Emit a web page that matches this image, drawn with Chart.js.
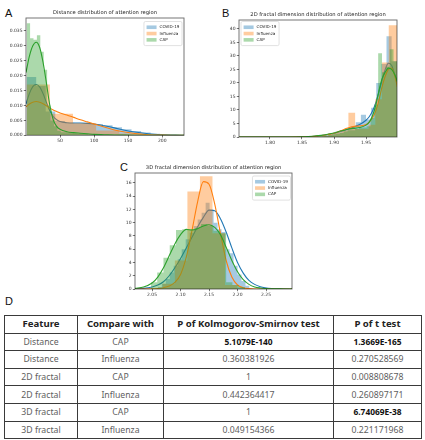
<!DOCTYPE html>
<html>
<head>
<meta charset="utf-8">
<script src="https://cdn.jsdelivr.net/npm/chart.js@4.4.1/dist/chart.umd.min.js"></script>
<style>
html,body{margin:0;padding:0;background:#fff}
body{width:425px;height:440px;position:relative;overflow:hidden}
canvas{position:absolute}
.panel{position:absolute;font-family:"Liberation Sans",Arial,sans-serif;font-size:11px;line-height:1;color:#111}
#tbl{position:absolute;left:4px;top:315px;width:417px;border-collapse:collapse;table-layout:fixed;font-family:"Noto Sans",sans-serif}
#tbl td,#tbl th{border:1px solid #3a3a3a;padding:0;text-align:center;height:16.6px;line-height:14px;white-space:nowrap;overflow:hidden}
#tbl th{font-size:9.6px;font-weight:bold;color:#222}
#tbl td{font-size:8.7px;color:#606060}
#tbl td.b{font-weight:bold;color:#111;font-size:8.4px}
</style>
</head>
<body>
<div class="panel" style="left:5px;top:7.7px">A</div>
<div class="panel" style="left:222px;top:7.7px">B</div>
<div class="panel" style="left:120px;top:161.7px">C</div>
<div class="panel" style="left:5px;top:295.7px">D</div>
<canvas id="cA" width="200" height="146" style="left:0;top:0"></canvas>
<canvas id="cB" width="215" height="148" style="left:210px;top:0"></canvas>
<canvas id="cC" width="200" height="151" style="left:110px;top:150px"></canvas>
<table id="tbl">
<colgroup><col style="width:73px"><col style="width:86px"><col style="width:170px"><col style="width:88px"></colgroup>
<thead></thead><tbody></tbody>
</table>
<script>
// ---------------- DATA ----------------
const seriesNames = ["COVID-19", "Influenza", "CAP"];

// Panel A: distance distribution
const distTitle = "Distance distribution of attention region";
const distXTicks = [50, 100, 150, 200];
const distYTicks = [0, 0.005, 0.010, 0.015, 0.020, 0.025, 0.030, 0.035];
const distCovidEdges = [1, 15, 29, 43, 57, 71, 85, 99, 113, 127, 141, 155, 169, 183, 197, 211, 225];
const distCovidHeights = [0.0195, 0.0165, 0.0080, 0.0048, 0.0042, 0.0040, 0.0040, 0.0038, 0.0034, 0.0027, 0.0020, 0.0014, 0.0009, 0.0005, 0.0003, 0.0001];
const distFluEdges = [1, 35, 69, 103, 137, 171, 205];
const distFluHeights = [0.0170, 0.0072, 0.0040, 0.0016, 0.0006, 0.0002];
const distCapEdges = [1, 6, 11, 16, 21, 26, 31, 36, 41, 46, 51, 61, 71, 81, 91, 101];
const distCapHeights = [0.0375, 0.0325, 0.0320, 0.0335, 0.0280, 0.0220, 0.0100, 0.0050, 0.0030, 0.0015, 0.0010, 0.0008, 0.0006, 0.0004, 0.0003];
const distKdeX = [0, 5, 10, 15, 20, 25, 30, 35, 40, 45, 50, 60, 70, 80, 90, 100, 115, 130, 145, 160, 180, 200, 220, 232];
const distKdeCovid = [0.0105, 0.0140, 0.0163, 0.0170, 0.0162, 0.0140, 0.0110, 0.0082, 0.0063, 0.0052, 0.0046, 0.0042, 0.0041, 0.0041, 0.0040, 0.0038, 0.0032, 0.0025, 0.0017, 0.0011, 0.0005, 0.0002, 0.00005, 0.00002];
const distKdeFlu = [0.0095, 0.0105, 0.0111, 0.0113, 0.0111, 0.0106, 0.0099, 0.0091, 0.0085, 0.0080, 0.0075, 0.0068, 0.0060, 0.0052, 0.0045, 0.0038, 0.0028, 0.0018, 0.0011, 0.0006, 0.0002, 0.00007, 0.00002, 0];
const distKdeCap = [0.0210, 0.0265, 0.0300, 0.0312, 0.0295, 0.0245, 0.0175, 0.0100, 0.0052, 0.0030, 0.0020, 0.0012, 0.0009, 0.0007, 0.0005, 0.0003, 0.0002, 0.0001, 0.00005, 0.00002, 0, 0, 0, 0];

// Panel B: 2D fractal dimension
const frac2Title = "2D fractal dimension distribution of attention region";
const frac2XTicks = [1.80, 1.85, 1.90, 1.95];
const frac2YTicks = [0, 5, 10, 15, 20, 25, 30, 35, 40];
const frac2CovidEdges = [1.870, 1.878, 1.886, 1.894, 1.902, 1.910, 1.918, 1.926, 1.934, 1.942, 1.950, 1.958, 1.966, 1.974, 1.982, 1.990, 1.999];
const frac2CovidHeights = [0.4, 0.6, 1.0, 1.5, 2.0, 2.6, 3.2, 4.0, 5.5, 8.2, 6.5, 10.8, 20.0, 27.0, 37.3, 28.0];
const frac2FluEdges = [1.8805, 1.891, 1.9015, 1.912, 1.9225, 1.933, 1.9435, 1.954, 1.9645, 1.975, 1.9855, 1.999];
const frac2FluHeights = [0.5, 1.0, 1.8, 2.5, 9.0, 3.0, 3.0, 4.5, 14.0, 27.6, 41.4];
const frac2CapEdges = [1.873, 1.879, 1.885, 1.891, 1.897, 1.903, 1.909, 1.915, 1.921, 1.927, 1.933, 1.939, 1.945, 1.951, 1.957, 1.963, 1.969, 1.975, 1.981, 1.987, 1.993, 1.999];
const frac2CapHeights = [0.2, 0.3, 0.5, 0.7, 1.0, 1.2, 1.5, 2.0, 2.5, 2.5, 3.0, 3.5, 3.5, 4.0, 7.0, 12.0, 31.0, 24.0, 26.0, 32.5, 28.0];
const frac2KdeX = [1.752, 1.80, 1.83, 1.85, 1.86, 1.87, 1.88, 1.89, 1.90, 1.91, 1.92, 1.93, 1.94, 1.95, 1.955, 1.96, 1.965, 1.97, 1.975, 1.98, 1.985, 1.99, 1.995, 1.999];
const frac2KdeCovid = [0, 0, 0.02, 0.08, 0.15, 0.3, 0.55, 0.9, 1.4, 2.0, 2.8, 3.6, 4.6, 6.2, 7.5, 9.5, 12.5, 16.5, 21.0, 25.0, 27.3, 26.5, 23.0, 19.5];
const frac2KdeFlu = [0, 0, 0.02, 0.08, 0.15, 0.3, 0.5, 0.9, 1.4, 2.2, 3.2, 3.9, 4.1, 4.6, 5.5, 7.0, 9.5, 13.5, 18.5, 22.5, 25.0, 25.5, 22.5, 18.5];
const frac2KdeCap = [0, 0, 0.02, 0.1, 0.2, 0.35, 0.6, 1.0, 1.5, 2.2, 2.8, 3.2, 3.5, 4.4, 5.5, 7.8, 11.5, 17.0, 21.5, 24.0, 25.5, 25.0, 23.0, 20.5];

// Panel C: 3D fractal dimension
const frac3Title = "3D fractal dimension distribution of attention region";
const frac3XTicks = [2.05, 2.10, 2.15, 2.20, 2.25];
const frac3YTicks = [0, 2, 4, 6, 8, 10, 12, 14, 16];
const frac3CovidEdges = [2.060, 2.067, 2.074, 2.081, 2.088, 2.095, 2.102, 2.109, 2.116, 2.123, 2.130, 2.137, 2.144, 2.151, 2.158, 2.165, 2.172, 2.179, 2.186, 2.193, 2.200, 2.207, 2.214, 2.221];
const frac3CovidHeights = [0.3, 0.8, 1.5, 2.5, 3.5, 4.5, 6.0, 7.5, 8.5, 9.5, 10.5, 11.5, 13.0, 12.0, 10.0, 9.0, 8.6, 6.0, 5.4, 3.5, 2.2, 1.2, 0.5];
const frac3FluEdges = [2.068, 2.090, 2.112, 2.134, 2.156, 2.178, 2.200];
const frac3FluHeights = [0.8, 4.3, 14.7, 17.0, 8.4, 0.6];
const frac3CapEdges = [2.048, 2.059, 2.070, 2.081, 2.092, 2.103, 2.114, 2.125, 2.136, 2.147, 2.158, 2.169, 2.180, 2.191, 2.202, 2.213];
const frac3CapHeights = [1.0, 2.5, 4.7, 6.6, 8.9, 9.0, 9.0, 9.2, 9.8, 9.5, 8.8, 8.4, 1.0, 0.6, 0.3];
const frac3KdeX = [2.020, 2.035, 2.05, 2.06, 2.07, 2.08, 2.09, 2.10, 2.11, 2.12, 2.13, 2.14, 2.15, 2.16, 2.17, 2.18, 2.19, 2.20, 2.21, 2.22, 2.23, 2.24, 2.26, 2.28, 2.296];
const frac3KdeCovid = [0.05, 0.1, 0.3, 0.6, 1.1, 2.0, 3.2, 4.6, 6.2, 7.8, 9.4, 10.8, 11.9, 11.8, 10.6, 8.6, 6.2, 4.0, 2.4, 1.3, 0.7, 0.35, 0.08, 0.02, 0];
const frac3KdeFlu = [0, 0, 0.02, 0.08, 0.2, 0.45, 1.0, 2.2, 4.8, 8.8, 13.2, 16.2, 15.8, 12.8, 8.4, 4.3, 1.8, 0.6, 0.2, 0.05, 0, 0, 0, 0, 0];
const frac3KdeCap = [0.1, 0.3, 0.9, 1.8, 3.2, 5.0, 6.8, 8.2, 9.0, 8.9, 9.1, 9.5, 9.7, 9.3, 8.2, 6.3, 4.3, 2.6, 1.4, 0.7, 0.3, 0.15, 0.04, 0.01, 0];

// Panel D: statistics table
const tableHeader = ["Feature", "Compare with", "P of Kolmogorov-Smirnov test", "P of t test"];
const tableFeature = ["Distance", "Distance", "2D fractal", "2D fractal", "3D fractal", "3D fractal"];
const tableCompare = ["CAP", "Influenza", "CAP", "Influenza", "CAP", "Influenza"];
const tableKS = ["5.1079E-140", "0.360381926", "1", "0.442364417", "1", "0.049154366"];
const tableT = ["1.3669E-165", "0.270528569", "0.008808678", "0.260897171", "6.74069E-38", "0.221171968"];
const tableBoldCells = [[0, 2], [0, 3], [4, 3]];

// ---------------- RENDER ----------------
Chart.defaults.font.family = '"DejaVu Sans", sans-serif';
Chart.defaults.color = '#333';
const LINE_COLORS = ['#1f77b4', '#ff7f0e', '#2ca02c'];
const FILL_COLORS = ['rgba(31,119,180,0.4)', 'rgba(255,127,14,0.4)', 'rgba(44,160,44,0.4)'];

function histPoints(edges, heights) {
  const pts = [];
  for (let i = 0; i < heights.length; i++) {
    pts.push({x: edges[i], y: heights[i]});
    pts.push({x: edges[i + 1], y: heights[i]});
  }
  return pts;
}

const framePlugin = {
  id: 'frame',
  afterDatasetsDraw(chart) {
    const ctx = chart.ctx, a = chart.chartArea;
    ctx.save();
    ctx.strokeStyle = 'rgba(0,0,0,0.6)';
    ctx.lineWidth = 0.9;
    ctx.strokeRect(a.left, a.top, a.right - a.left, a.bottom - a.top);
    ctx.restore();
  }
};

const boxLegend = {
  id: 'boxLegend',
  afterDraw(chart, args, o) {
    const ctx = chart.ctx, a = chart.chartArea;
    const items = chart.data.datasets.filter(d => d.kind === 'hist');
    ctx.save();
    ctx.font = o.fontSize + 'px "DejaVu Sans", sans-serif';
    const tw = Math.max(...items.map(d => ctx.measureText(d.label).width));
    const w = o.pad + o.patchW + o.gap + tw + o.pad;
    const h = o.pad * 2 + o.rowH * items.length;
    const x = o.side === 'right' ? a.right - o.offX - w : a.left + o.offX;
    const y = a.top + o.offY;
    ctx.beginPath();
    if (ctx.roundRect) ctx.roundRect(x, y, w, h, 1.5); else ctx.rect(x, y, w, h);
    ctx.fillStyle = 'rgba(255,255,255,0.8)';
    ctx.fill();
    ctx.strokeStyle = '#d4d4d4';
    ctx.lineWidth = 0.7;
    ctx.stroke();
    items.forEach((d, i) => {
      const cy = y + o.pad + o.rowH * (i + 0.5);
      ctx.fillStyle = d.backgroundColor;
      ctx.fillRect(x + o.pad, cy - o.patchH / 2, o.patchW, o.patchH);
      ctx.fillStyle = '#222';
      ctx.textBaseline = 'middle';
      ctx.textAlign = 'left';
      ctx.fillText(d.label, x + o.pad + o.patchW + o.gap, cy);
    });
    ctx.restore();
  }
};

function makeChart(id, p) {
  const datasets = [];
  for (let s = 0; s < 3; s++) {
    datasets.push({
      label: seriesNames[s], kind: 'hist', order: 5 - 2 * s,
      data: histPoints(p.hists[s][0], p.hists[s][1]),
      backgroundColor: FILL_COLORS[s], borderColor: 'rgba(0,0,0,0)', borderWidth: 0,
      fill: 'origin', pointRadius: 0, tension: 0
    });
    datasets.push({
      label: seriesNames[s] + ' KDE', kind: 'kde', order: 4 - 2 * s,
      data: p.kdeX.map((x, i) => ({x: x, y: p.kdes[s][i]})),
      borderColor: LINE_COLORS[s], borderWidth: 1.1, fill: false, pointRadius: 0,
      cubicInterpolationMode: 'monotone'
    });
  }
  const tickFont = {size: 4.5};
  new Chart(document.getElementById(id), {
    type: 'line',
    data: {datasets: datasets},
    plugins: [framePlugin, boxLegend],
    options: {
      responsive: false, animation: false, devicePixelRatio: 1,
      layout: {padding: {left: 0, top: 0, right: p.padRight, bottom: 0}},
      plugins: {
        legend: {display: false},
        tooltip: {enabled: false},
        title: {display: true, text: p.title, fullSize: false, color: '#222',
          font: {size: 5.2, weight: 'normal'}, padding: {top: p.titlePadTop, bottom: 1.76}},
        boxLegend: Object.assign({fontSize: 4.1, pad: 2.6, patchW: 10, patchH: 3.6, gap: 3, rowH: 6.3}, p.legend)
      },
      scales: {
        x: {
          type: 'linear', min: p.xMin, max: p.xMax,
          afterBuildTicks: sc => { sc.ticks = p.xTicks.map(v => ({value: v})); },
          afterFit: sc => { sc.height = p.xAxisH; },
          ticks: {callback: v => p.xFmt(v), font: tickFont, color: '#333', padding: 0.5, maxRotation: 0, autoSkip: false},
          grid: {display: true, drawOnChartArea: false, drawTicks: true, tickLength: 2.2, color: '#555', lineWidth: 0.8},
          border: {display: false}
        },
        y: {
          type: 'linear', min: p.yMin, max: p.yMax,
          afterBuildTicks: sc => { sc.ticks = p.yTicks.map(v => ({value: v})); },
          afterFit: sc => { sc.width = p.yAxisW; },
          ticks: {callback: v => p.yFmt(v), font: tickFont, color: '#333', padding: 1.2, autoSkip: false},
          grid: {display: true, drawOnChartArea: false, drawTicks: true, tickLength: 2.2, color: '#555', lineWidth: 0.8},
          border: {display: false}
        }
      }
    }
  });
}

makeChart('cA', {
  title: distTitle, titlePadTop: 10, padRight: 16, yAxisW: 26, xAxisH: 10.7,
  xMin: 0, xMax: 232, yMin: 0, yMax: 0.0393,
  xTicks: distXTicks, yTicks: distYTicks,
  xFmt: v => String(Math.round(v)), yFmt: v => v.toFixed(3),
  hists: [[distCovidEdges, distCovidHeights], [distFluEdges, distFluHeights], [distCapEdges, distCapHeights]],
  kdeX: distKdeX, kdes: [distKdeCovid, distKdeFlu, distKdeCap],
  legend: {side: 'right', offX: 2, offY: 3.5}
});

makeChart('cB', {
  title: frac2Title, titlePadTop: 12, padRight: 28, yAxisW: 29, xAxisH: 11,
  xMin: 1.7516, xMax: 1.9984, yMin: 0, yMax: 43.3,
  xTicks: frac2XTicks, yTicks: frac2YTicks,
  xFmt: v => v.toFixed(2), yFmt: v => String(Math.round(v)),
  hists: [[frac2CovidEdges, frac2CovidHeights], [frac2FluEdges, frac2FluHeights], [frac2CapEdges, frac2CapHeights]],
  kdeX: frac2KdeX, kdes: [frac2KdeCovid, frac2KdeFlu, frac2KdeCap],
  legend: {side: 'left', offX: 2, offY: 1.5}
});

makeChart('cC', {
  title: frac3Title, titlePadTop: 15, padRight: 18, yAxisW: 25, xAxisH: 12,
  xMin: 2.020, xMax: 2.2956, yMin: 0, yMax: 17.5,
  xTicks: frac3XTicks, yTicks: frac3YTicks,
  xFmt: v => v.toFixed(2), yFmt: v => String(Math.round(v)),
  hists: [[frac3CovidEdges, frac3CovidHeights], [frac3FluEdges, frac3FluHeights], [frac3CapEdges, frac3CapHeights]],
  kdeX: frac3KdeX, kdes: [frac3KdeCovid, frac3KdeFlu, frac3KdeCap],
  legend: {side: 'right', offX: 1.5, offY: 3}
});

// table
(function () {
  const thead = document.querySelector('#tbl thead');
  const tr = document.createElement('tr');
  tableHeader.forEach(h => { const th = document.createElement('th'); th.textContent = h; tr.appendChild(th); });
  thead.appendChild(tr);
  const tbody = document.querySelector('#tbl tbody');
  for (let r = 0; r < tableFeature.length; r++) {
    const row = document.createElement('tr');
    [tableFeature[r], tableCompare[r], tableKS[r], tableT[r]].forEach((v, c) => {
      const td = document.createElement('td');
      td.textContent = v;
      if (tableBoldCells.some(b => b[0] === r && b[1] === c)) td.className = 'b';
      row.appendChild(td);
    });
    tbody.appendChild(row);
  }
})();
</script>
</body>
</html>
